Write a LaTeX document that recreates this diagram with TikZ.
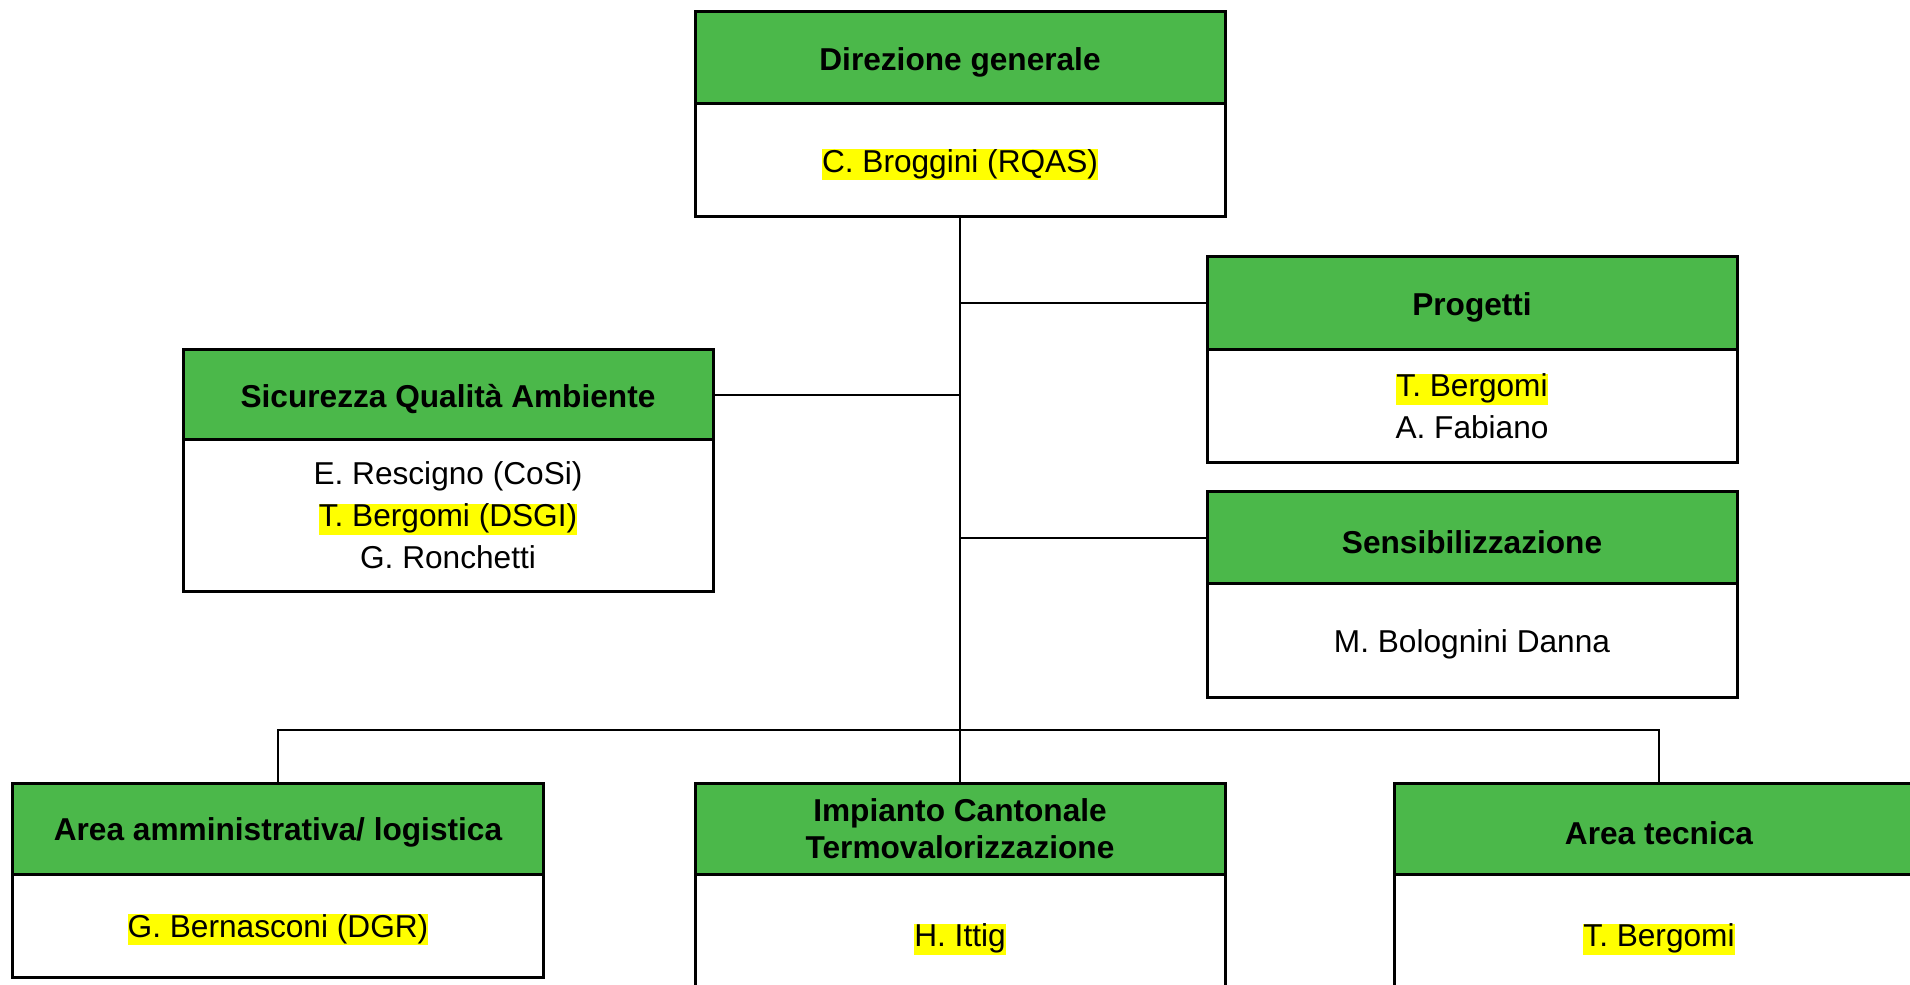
\documentclass[tikz,border=0pt]{standalone}
\usepackage{fontspec}
\setmainfont{Liberation Sans}
\usetikzlibrary{positioning}
\definecolor{boxgreen}{RGB}{75,184,74}
\definecolor{hlyellow}{RGB}{255,255,0}
\newcommand{\hl}[1]{{\setlength{\fboxsep}{0pt}\colorbox{hlyellow}{\rule[-0.26em]{0pt}{0.93em}#1}}}

\tikzset{
  head/.style={rectangle,draw,fill=boxgreen,line width=0.06cm,outer sep=0pt,inner sep=0pt,
    minimum width=10.6cm,minimum height=1.84cm,align=center,
    execute at begin node={\rule{0pt}{1em}},
    font=\fontsize{18}{21}\selectfont\bfseries},
  body/.style={rectangle,draw,fill=white,line width=0.06cm,outer sep=0pt,inner sep=0pt,
    minimum width=10.6cm,align=center,
    execute at begin node={\rule{0pt}{1em}},
    font=\fontsize{18}{24}\selectfont},
  link/.style={line width=0.04cm}
}

\begin{document}
\begin{tikzpicture}
\useasboundingbox (0,0) rectangle (38.2,-19.7);
\clip (0,0) rectangle (38.2,-19.7);

\path (19.2,-1.16) node[head] (dirHead) {Direzione generale};
\node[body,minimum height=2.26cm,below=0pt of dirHead] (dirBody) {\hl{C. Broggini (RQAS)}};

\path (29.44,-6.07) node[head,minimum height=1.86cm] (progHead) {Progetti};
\node[body,minimum height=2.26cm,below=0pt of progHead] (progBody) {\hl{T. Bergomi}\\A. Fabiano};

\path (8.96,-7.9) node[head,minimum height=1.8cm] (sicHead) {Sicurezza Qualità Ambiente};
\node[body,minimum height=3.02cm,below=0pt of sicHead] (sicBody) {E. Rescigno (CoSi)\\\hl{T. Bergomi (DSGI)}\\G. Ronchetti};

\path (29.44,-10.75) node[head,minimum height=1.82cm] (sensHead) {Sensibilizzazione};
\node[body,minimum height=2.28cm,below=0pt of sensHead] (sensBody) {M. Bolognini Danna};

\path (5.56,-16.57) node[head,minimum height=1.82cm] (ammHead) {Area amministrativa/ logistica};
\node[body,minimum height=2.06cm,below=0pt of ammHead] (ammBody) {\hl{G. Bernasconi (DGR)}};

\path (19.2,-16.57) node[head,minimum height=1.82cm] (impHead) {Impianto Cantonale\\Termovalorizzazione};
\node[body,minimum height=2.44cm,below=0pt of impHead] (impBody) {\hl{H. Ittig}};

\path (33.18,-16.57) node[head,minimum height=1.82cm] (tecHead) {Area tecnica};
\node[body,minimum height=2.44cm,below=0pt of tecHead] (tecBody) {\hl{T. Bergomi}};

% connectors
\coordinate (bus) at (19.2,-14.6);
\draw[link] (dirBody.south) -- (impHead.north);
\draw[link] (progHead.west) -- (progHead.west -| dirBody.south);
\draw[link] (sicHead.east) -- (sicHead.east -| dirBody.south);
\draw[link] (sensHead.west) -- (sensHead.west -| dirBody.south);
\draw[link] (ammHead.north) |- (bus) -| (tecHead.north);
\end{tikzpicture}
\end{document}
